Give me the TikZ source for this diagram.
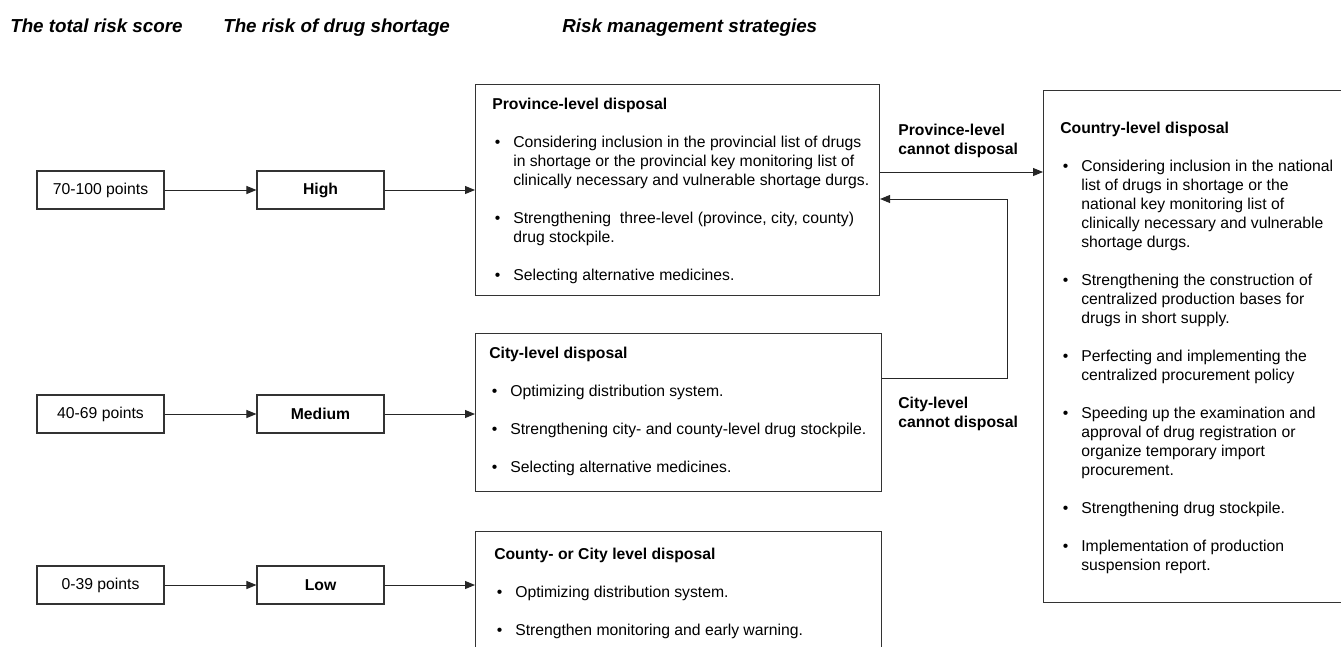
\documentclass[tikz,border=0pt]{standalone}
\usepackage{fontspec}
\setmainfont{Liberation Sans}
\usetikzlibrary{calc}
\usetikzlibrary{arrows.meta}

\newcommand\rsitem[1]{\par\vspace{14.25pt}\hangindent=15.75pt\hangafter=1\noindent\makebox[15.75pt][l]{\hspace{2pt}\textbullet}{\let\\\newline #1}}
\newcommand\rsblock[2]{\begin{minipage}[t]{#1}\raggedright #2\end{minipage}}

\begin{document}
\begin{tikzpicture}[x=0.75pt, y=-0.75pt,
  every node/.style={font=\fontsize{11.8pt}{14.25pt}\selectfont},
  rsbox/.style={draw=black!80, line width=0.8pt, inner sep=0},
  scorebox/.style={rsbox, minimum width=95.25pt, minimum height=28.5pt},
  bigbox/.style={rsbox, anchor=north west},
  boxtext/.style={anchor=base west, inner sep=0},
  header/.style={anchor=base west, inner sep=0, font=\fontsize{14.1pt}{17pt}\selectfont\bfseries\itshape},
  arrowline/.style={draw=black!85, line width=0.75pt, -{Triangle[length=7.5pt,width=6pt]}}]
\clip (0,0) rectangle (1341,646);

% column heads
\node[header] (h1) at (10,32) {The total risk score};
\node[header] (h2) at (223,32) {The risk of drug shortage};
\node[header] (h3) at (562,32) {Risk management strategies};

% strategy boxes
\node[bigbox, minimum width=303pt, minimum height=158.25pt] (prov) at (475,84) {};
\node[bigbox, minimum width=304.5pt, minimum height=118.5pt] (city) at (475,333) {};
\node[bigbox, minimum width=304.5pt, minimum height=112.5pt] (county) at (475,531) {};
\node[bigbox, minimum width=240pt, minimum height=384pt] (country) at (1043,90) {};

\foreach \i/\y/\score/\level in {1/190/70-100 points/High, 2/414/40-69 points/Medium, 3/585/0-39 points/Low} {
 \node[scorebox] (sc\i) at (100.5,\y) {\score};
 \node[scorebox] (lv\i) at (320.5,\y) {\bfseries\level};
 \draw[arrowline] (sc\i) -- (lv\i);
 \draw[arrowline] (lv\i) -- (lv\i -| prov.west);
}

\node[boxtext] (provtxt) at (492,109) {\rsblock{300pt}{\textbf{Province-level disposal}
 \rsitem{Considering inclusion in the provincial list of drugs\\in shortage or the provincial key monitoring list of\\clinically necessary and vulnerable shortage durgs.}
 \rsitem{Strengthening~ three-level (province, city, county)\\drug stockpile.}
 \rsitem{Selecting alternative medicines.}}};
\node[boxtext] (citytxt) at (489,358) {\rsblock{300pt}{\textbf{City-level disposal}
 \rsitem{Optimizing distribution system.}
 \rsitem{Strengthening city- and county-level drug stockpile.}
 \rsitem{Selecting alternative medicines.}}};
\node[boxtext] (countytxt) at (494,559) {\rsblock{300pt}{\textbf{County- or City level disposal}
 \rsitem{Optimizing distribution system.}
 \rsitem{Strengthen monitoring and early warning.}}};
\node[boxtext] (countrytxt) at (1060,133) {\rsblock{230pt}{\textbf{Country-level disposal}
 \rsitem{Considering inclusion in the national\\list of drugs in shortage or the\\national key monitoring list of\\clinically necessary and vulnerable\\shortage durgs.}
 \rsitem{Strengthening the construction of\\centralized production bases for\\drugs in short supply.}
 \rsitem{Perfecting and implementing the\\centralized procurement policy}
 \rsitem{Speeding up the examination and\\approval of drug registration or\\organize temporary import\\procurement.}
 \rsitem{Strengthening drug stockpile.}
 \rsitem{Implementation of production\\suspension report.}}};

% escalation
\node[boxtext] (provlbl) at (898,135) {\rsblock{100pt}{\bfseries Province-level\\cannot disposal}};
\node[boxtext] (citylbl) at (898,408) {\rsblock{100pt}{\bfseries City-level\\cannot disposal}};
\draw[arrowline] (prov.east |- 0,172) -- (country.west |- 0,172);
\draw[arrowline] (city.east |- 0,378) -- ++(125,0) |- (prov.east |- 0,199);
\end{tikzpicture}
\end{document}
